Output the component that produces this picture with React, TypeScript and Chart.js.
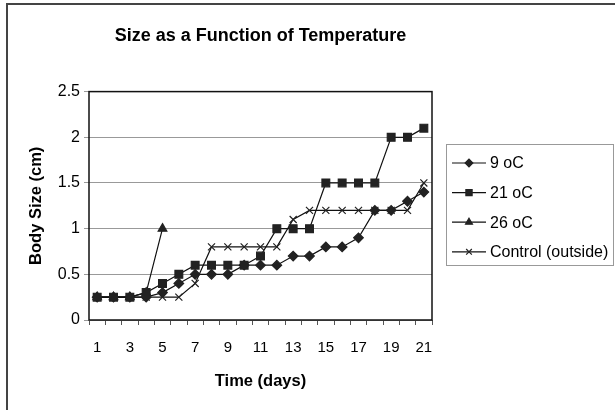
import React, { useEffect, useRef } from "react";
import { Chart, registerables } from "chart.js";
import { drawPoint } from "chart.js/helpers";

Chart.register(...registerables);

const days = ["1","2","3","4","5","6","7","8","9","10","11","12","13","14","15","16","17","18","19","20","21"];
const seriesNames = ["9 oC", "21 oC", "26 oC", "Control (outside)"];
const nineC = [0.25,0.25,0.25,0.25,0.3,0.4,0.5,0.5,0.5,0.6,0.6,0.6,0.7,0.7,0.8,0.8,0.9,1.2,1.2,1.3,1.4];
const twentyOneC = [0.25,0.25,0.25,0.3,0.4,0.5,0.6,0.6,0.6,0.6,0.7,1.0,1.0,1.0,1.5,1.5,1.5,1.5,2.0,2.0,2.1];
const twentySixC = [0.25,0.25,0.25,0.3,1.0,null,null,null,null,null,null,null,null,null,null,null,null,null,null,null,null];
const control = [0.25,0.25,0.25,0.25,0.25,0.25,0.4,0.8,0.8,0.8,0.8,0.8,1.1,1.2,1.2,1.2,1.2,1.2,1.2,1.2,1.5];
const yTicks = { min: 0, max: 2.5, step: 0.5 };

const FONT = "'Liberation Sans', Arial, sans-serif";

const framePlugin = {
  id: "frame",
  beforeDraw(chart: any) {
    const ctx = chart.ctx;
    ctx.save();
    ctx.fillStyle = "#fff";
    ctx.fillRect(0, 0, chart.width, chart.height);
    ctx.strokeStyle = "#444";
    ctx.lineWidth = 2;
    ctx.beginPath();
    ctx.moveTo(7, chart.height);
    ctx.lineTo(7, 4);
    ctx.lineTo(chart.width, 4);
    ctx.stroke();
    ctx.restore();
  },
  beforeDatasetsDraw(chart: any) {
    const { ctx, chartArea } = chart;
    ctx.save();
    ctx.strokeStyle = "#111";
    ctx.lineWidth = 1.5;
    ctx.strokeRect(chartArea.left, chartArea.top, chartArea.right - chartArea.left, chartArea.bottom - chartArea.top);
    ctx.restore();
  },
};

const legendPlugin = {
  id: "boxLegend",
  afterDraw(chart: any) {
    const ctx = chart.ctx;
    ctx.save();
    ctx.strokeStyle = "#999";
    ctx.lineWidth = 1;
    ctx.strokeRect(446.5, 144.5, 167, 121);
    chart.data.datasets.forEach((ds: any, i: number) => {
      const y = 163 + i * 29.6;
      ctx.strokeStyle = ds.borderColor;
      ctx.lineWidth = 1.2;
      ctx.beginPath();
      ctx.moveTo(452, y);
      ctx.lineTo(486, y);
      ctx.stroke();
      ctx.fillStyle = ds.pointBackgroundColor;
      ctx.strokeStyle = ds.pointBorderColor;
      ctx.lineWidth = 1.2;
      drawPoint(ctx, { pointStyle: ds.pointStyle, radius: ds.pointRadius * 0.8, rotation: 0, borderWidth: 1.2 }, 469, y);
      ctx.fillStyle = "#000";
      ctx.font = `16px ${FONT}`;
      ctx.textBaseline = "middle";
      ctx.textAlign = "left";
      ctx.fillText(ds.label, 490, y + 1);
    });
    ctx.restore();
  },
};

export default function App() {
  const ref = useRef<HTMLCanvasElement>(null);
  useEffect(() => {
    const mk = (label: string, data: any[], style: string, radius: number, order: number) => ({
      label,
      data,
      borderColor: "#111",
      borderWidth: 1.2,
      pointStyle: style,
      pointRadius: radius,
      pointBackgroundColor: "#222",
      pointBorderColor: "#222",
      pointBorderWidth: 1.2,
      fill: false,
      tension: 0,
      spanGaps: false,
      order,
    });
    const chart = new Chart(ref.current!, {
      type: "line",
      data: {
        labels: days,
        datasets: [
          mk(seriesNames[0], nineC, "rectRot", 4.8, 1),
          mk(seriesNames[1], twentyOneC, "rect", 5.5, 0),
          mk(seriesNames[2], twentySixC, "triangle", 5, 2),
          mk(seriesNames[3], control, "crossRot", 5, 3),
        ] as any,
      },
      options: {
        animation: false,
        responsive: true,
        maintainAspectRatio: false,
        layout: { padding: { left: 0, top: 0, right: 183, bottom: 0 } },
        plugins: {
          legend: { display: false },
          tooltip: { enabled: false },
          title: {
            display: true,
            text: "Size as a Function of Temperature",
            fullSize: false,
            color: "#000",
            font: { family: FONT, size: 18, weight: "bold" },
            padding: { top: 25, bottom: 45 },
          },
        },
        scales: {
          x: {
            offset: true,
            grid: { display: true, drawOnChartArea: false, drawTicks: true, tickLength: 5, offset: true, color: "#555" },
            border: { display: false },
            ticks: {
              autoSkip: false,
              maxRotation: 0,
              color: "#000",
              padding: 14,
              font: { family: FONT, size: 15 },
              callback: (_v: any, i: number) => (i % 2 === 0 ? days[i] : ""),
            },
            title: {
              display: true,
              text: "Time (days)",
              color: "#000",
              font: { family: FONT, size: 16.5, weight: "bold" },
              padding: { top: 0, bottom: 19 },
            },
            afterFit: (s: any) => { s.height = 90; },
          },
          y: {
            min: yTicks.min,
            max: yTicks.max,
            grid: { color: "#999", tickLength: 5, drawTicks: true, lineWidth: 1 },
            border: { display: false },
            ticks: {
              stepSize: yTicks.step,
              color: "#000",
              padding: 4,
              font: { family: FONT, size: 16 },
              callback: (v: any) => String(Number(v)),
            },
            title: {
              display: true,
              text: "Body Size (cm)",
              color: "#000",
              font: { family: FONT, size: 16.5, weight: "bold" },
              padding: { top: 27, bottom: 0 },
            },
            afterFit: (s: any) => { s.width = 89; },
          },
        },
      },
      plugins: [framePlugin, legendPlugin],
    } as any);
    return () => chart.destroy();
  }, []);
  return (
    <div style={{ position: "absolute", left: 0, top: 0, width: 615, height: 410 }}>
      <canvas ref={ref} />
    </div>
  );
}
